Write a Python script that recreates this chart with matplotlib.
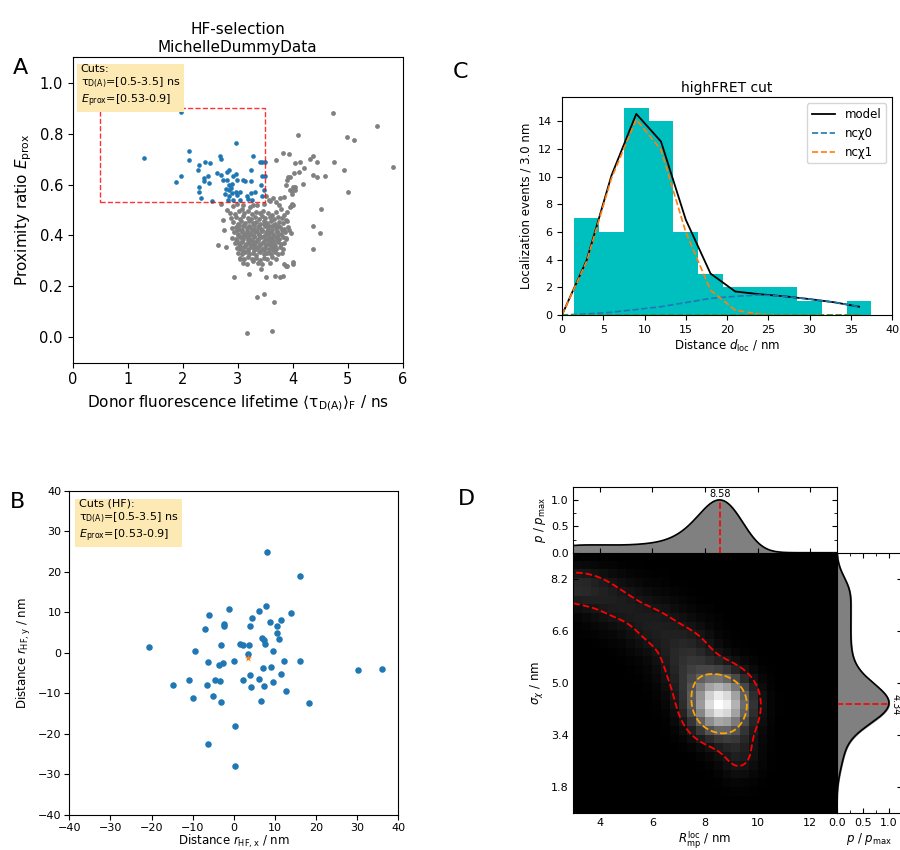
import numpy as np
import matplotlib
matplotlib.use("Agg")
import matplotlib.pyplot as plt
from matplotlib.patches import Rectangle
from matplotlib.ticker import MultipleLocator
from matplotlib.colors import PowerNorm

# ---------------- Panel A: lifetime vs proximity ratio ----------------
TAU_CUT = (0.5, 3.5)
E_CUT = (0.53, 0.9)

HF_TAU = [1.30, 1.96, 2.12, 2.12, 1.88, 1.96, 2.30, 2.40, 2.50, 2.28, 2.38, 2.39, 2.46,
          2.30, 2.30, 2.33, 2.48, 2.53, 2.68, 2.70, 2.62, 2.70, 2.80, 2.84, 2.74, 2.80,
          2.85, 2.90, 2.92, 2.97, 2.78, 2.84, 2.88, 2.76, 2.85, 2.90, 2.96, 2.82, 2.91,
          2.99, 3.04, 2.99, 3.10, 3.14, 3.04, 3.16, 3.24, 3.32, 3.19, 3.26, 3.28, 3.25,
          3.25, 3.41, 3.44, 3.49, 3.44, 3.49, 3.43, 3.44, 3.48, 2.96]
HF_E = [0.706, 0.887, 0.730, 0.696, 0.609, 0.635, 0.677, 0.688, 0.685, 0.659, 0.627, 0.612,
        0.633, 0.591, 0.570, 0.547, 0.608, 0.535, 0.714, 0.701, 0.646, 0.638, 0.651, 0.656,
        0.617, 0.617, 0.598, 0.604, 0.635, 0.640, 0.583, 0.577, 0.585, 0.564, 0.554, 0.567,
        0.572, 0.541, 0.538, 0.559, 0.541, 0.619, 0.619, 0.612, 0.572, 0.556, 0.567, 0.572,
        0.543, 0.538, 0.711, 0.656, 0.614, 0.690, 0.690, 0.690, 0.635, 0.635, 0.598, 0.556,
        0.580, 0.764]

OTHER_TAU = [
    # sparse points around the main population
    4.73, 5.53, 4.09, 4.99, 5.12, 5.82, 3.82, 3.93, 3.70, 4.05, 4.13, 4.32, 4.36, 4.44, 4.75,
    4.21, 4.11, 4.02, 3.92, 4.36, 4.45, 4.59, 4.94, 5.01, 4.18, 3.88, 4.01, 4.04, 3.98, 4.04,
    3.95, 3.90, 3.99, 3.95, 3.59, 3.70, 3.96, 4.00, 4.51, 3.51, 4.37, 4.49, 4.36, 4.00, 3.88,
    3.82, 3.68, 3.52, 2.93, 3.20, 3.35, 3.48, 3.66, 3.16, 3.62, 2.65, 2.79, 2.73, 2.75, 2.70,
    2.80, 3.43, 3.77, 3.85, 3.90, 4.00, 3.96, 3.94, 3.88,
    # dense low-FRET population
    2.92, 2.98, 3.07, 3.09, 3.22, 3.28, 3.35, 3.47, 3.56, 3.65, 3.77, 3.85, 3.75, 3.78, 3.95, 3.99,
    2.86, 2.95, 3.02, 3.12, 3.18, 3.26, 3.33, 3.41, 3.46, 3.55, 3.62, 3.69, 3.84, 3.90,
    2.88, 2.97, 3.05, 3.10, 3.19, 3.24, 3.31, 3.38, 3.44, 3.50, 3.58, 3.66, 3.73, 3.80, 3.87,
    2.92, 3.00, 3.06, 3.13, 3.20, 3.27, 3.33, 3.40, 3.47, 3.53, 3.60, 3.67, 3.75, 3.82, 3.89,
    2.89, 2.96, 3.03, 3.09, 3.16, 3.22, 3.29, 3.36, 3.42, 3.49, 3.55, 3.62, 3.69, 3.77, 3.84, 3.91,
    2.93, 3.00, 3.07, 3.13, 3.19, 3.25, 3.32, 3.38, 3.45, 3.51, 3.58, 3.64, 3.71, 3.78, 3.86,
    2.90, 2.97, 3.04, 3.10, 3.17, 3.23, 3.30, 3.36, 3.43, 3.49, 3.56, 3.62, 3.69, 3.75, 3.82, 3.88,
    2.95, 3.02, 3.08, 3.15, 3.21, 3.28, 3.34, 3.40, 3.47, 3.53, 3.60, 3.66, 3.73, 3.79, 3.85,
    2.98, 3.05, 3.11, 3.18, 3.24, 3.31, 3.37, 3.44, 3.50, 3.57, 3.63, 3.70, 3.76, 3.83,
    3.01, 3.08, 3.14, 3.21, 3.27, 3.34, 3.40, 3.47, 3.53, 3.60, 3.67, 3.74, 3.81,
    3.04, 3.12, 3.19, 3.26, 3.33, 3.40, 3.47, 3.54, 3.62, 3.70,
    3.10, 3.17, 3.28, 3.36, 3.44, 3.58, 3.04,
    3.03, 3.12, 3.21, 3.30, 3.39, 3.48, 3.57, 3.66, 3.74,
    2.98, 3.07, 3.16, 3.26, 3.35, 3.44, 3.53, 3.62, 3.72, 3.80,
    3.01, 3.10, 3.20, 3.29, 3.38, 3.47, 3.55, 3.65, 3.74,
    2.99, 3.08, 3.18, 3.27, 3.37, 3.46, 3.55, 3.64, 3.72,
    3.04, 3.13, 3.22, 3.31, 3.41, 3.50, 3.59, 3.68,
    3.09, 3.19, 3.29, 3.38, 3.47, 3.56, 3.65,
]
OTHER_E = [
    0.882, 0.832, 0.793, 0.787, 0.776, 0.668, 0.724, 0.722, 0.698, 0.685, 0.689, 0.701, 0.711, 0.687, 0.690,
    0.664, 0.648, 0.646, 0.630, 0.638, 0.628, 0.634, 0.659, 0.569, 0.604, 0.598, 0.590, 0.590, 0.564, 0.577,
    0.631, 0.618, 0.573, 0.579, 0.537, 0.531, 0.517, 0.521, 0.505, 0.554, 0.436, 0.409, 0.346, 0.287, 0.281,
    0.239, 0.241, 0.236, 0.236, 0.247, 0.160, 0.171, 0.139, 0.018, 0.024, 0.364, 0.354, 0.459, 0.423, 0.525,
    0.501, 0.268, 0.236, 0.289, 0.278, 0.294, 0.409, 0.420, 0.390,
    0.516, 0.524, 0.505, 0.521, 0.510, 0.521, 0.518, 0.524, 0.539, 0.547, 0.547, 0.550, 0.521, 0.502, 0.513, 0.524,
    0.490, 0.485, 0.495, 0.488, 0.496, 0.484, 0.492, 0.487, 0.497, 0.490, 0.482, 0.494, 0.481, 0.494,
    0.468, 0.474, 0.466, 0.476, 0.470, 0.464, 0.474, 0.466, 0.476, 0.468, 0.472, 0.464, 0.474, 0.468, 0.460,
    0.452, 0.446, 0.455, 0.448, 0.456, 0.447, 0.454, 0.445, 0.456, 0.449, 0.455, 0.446, 0.452, 0.447, 0.455,
    0.430, 0.434, 0.426, 0.436, 0.428, 0.435, 0.427, 0.434, 0.426, 0.436, 0.429, 0.437, 0.428, 0.433, 0.426, 0.434,
    0.412, 0.406, 0.415, 0.407, 0.414, 0.405, 0.413, 0.407, 0.416, 0.408, 0.414, 0.406, 0.413, 0.405, 0.415,
    0.390, 0.386, 0.394, 0.386, 0.393, 0.385, 0.392, 0.385, 0.394, 0.386, 0.392, 0.385, 0.393, 0.387, 0.394, 0.386,
    0.372, 0.366, 0.374, 0.367, 0.373, 0.365, 0.374, 0.366, 0.372, 0.365, 0.373, 0.366, 0.374, 0.367, 0.372,
    0.352, 0.346, 0.354, 0.347, 0.353, 0.345, 0.354, 0.346, 0.352, 0.345, 0.353, 0.347, 0.354, 0.346,
    0.332, 0.326, 0.334, 0.327, 0.333, 0.325, 0.334, 0.327, 0.332, 0.326, 0.334, 0.327, 0.333,
    0.312, 0.306, 0.314, 0.307, 0.313, 0.305, 0.313, 0.306, 0.314, 0.307,
    0.291, 0.287, 0.298, 0.290, 0.286, 0.293, 0.307,
    0.440, 0.443, 0.438, 0.442, 0.439, 0.444, 0.437, 0.441, 0.439,
    0.420, 0.423, 0.418, 0.421, 0.417, 0.422, 0.419, 0.423, 0.418, 0.421,
    0.400, 0.397, 0.402, 0.398, 0.401, 0.396, 0.403, 0.399, 0.401,
    0.380, 0.377, 0.382, 0.378, 0.381, 0.376, 0.383, 0.379, 0.381,
    0.360, 0.357, 0.362, 0.358, 0.361, 0.356, 0.362, 0.359,
    0.340, 0.337, 0.342, 0.338, 0.341, 0.336, 0.342,
]

# ---------------- Panel B: localisation offsets of the HF bursts ----------------
RX = [-20.6, -14.9, -10.9, -10.0, -9.4, -6.9, -6.1, -6.3, -6.4, -6.3, -5.0, -4.5, -3.4, -3.5,
      -2.6, -3.1, -3.0, -2.5, -2.5, -1.1, 0.0, 0.4, 0.3, 1.4, 2.2, 2.3, 3.6, 3.5, 3.9, 4.5,
      3.9, 4.1, 6.1, 6.2, 6.7, 6.8, 7.4, 7.7, 7.0, 7.3, 7.9, 8.1, 8.9, 9.0, 9.5, 9.6, 10.6,
      10.4, 11.4, 11.0, 11.4, 12.2, 12.7, 14.0, 16.1, 16.1, 18.2, 30.3, 36.1]
RY = [1.4, -8.0, -6.6, -11.2, 0.5, 5.9, 9.4, -2.2, -8.0, -22.5, -10.6, -6.7, -6.9, -3.1,
      -2.4, 1.9, -12.2, 7.2, 6.6, 10.8, -2.1, -18.0, -27.9, 2.3, 2.0, -6.7, 1.9, -0.3, 6.7, 8.5,
      -5.5, -8.4, 10.4, -6.5, -12.0, 3.6, 3.2, 2.3, -3.8, -8.3, 11.6, 24.9, 7.6, -3.6, -7.1, 0.4, 6.7,
      5.0, 8.0, 3.3, -5.2, -1.9, -9.3, 9.8, 18.9, -1.9, -12.3, -4.3, -4.0]
CENTER_X, CENTER_Y = 3.5, -1.2

# ---------------- Panel C: distance histogram and model ----------------
BIN_WIDTH = 3.0
BIN_LEFT = [1.5, 4.5, 7.5, 10.5, 13.5, 16.5, 19.5, 22.5, 25.5, 28.5, 31.5, 34.5]
BIN_COUNT = [7, 6, 15, 14, 6, 3, 2, 2, 2, 1, 0, 1]
D_MODEL = [0, 3, 6, 9, 12, 15, 18, 21, 24, 27, 30, 33, 36]
NCCHI0 = [0.0, 0.08, 0.2, 0.4, 0.6, 0.9, 1.2, 1.35, 1.45, 1.35, 1.15, 0.92, 0.6]
NCCHI1 = [0.0, 3.9, 9.9, 14.15, 11.95, 6.0, 1.8, 0.35, 0.05, 0.0, 0.0, 0.0, 0.0]
NCCHI2 = [0.0] * 13

# ---------------- Panel D: posterior of (R_mp, sigma_chi) ----------------
R_RANGE = (3.0, 13.0)
S_RANGE = (1.0, 9.0)
R_PEAK = 8.58
S_PEAK = 4.34
# Gaussian components describing the posterior density
COMP_R = [R_PEAK, 9.3, 7.4, 6.1, 4.6, 3.0]
COMP_S = [S_PEAK, 2.8, 5.6, 6.7, 7.4, 7.95]
COMP_SD_R = [0.75, 0.55, 0.75, 0.85, 0.9, 0.95]
COMP_SD_S = [0.63, 0.55, 0.75, 0.65, 0.55, 0.42]
COMP_W = [1.0, 0.14, 0.22, 0.13, 0.12, 0.2]
CONTOUR_FRAC = [0.12, 0.4]
N_PIX = 30


def posterior(r, s):
    out = np.zeros(np.broadcast(r, s).shape)
    for mr, ms, sr, ss, w in zip(COMP_R, COMP_S, COMP_SD_R, COMP_SD_S, COMP_W):
        out += w * np.exp(-0.5 * ((r - mr) / sr) ** 2 - 0.5 * ((s - ms) / ss) ** 2)
    return out


W, H = 900, 850
fig = plt.figure(figsize=(W / 100, H / 100), dpi=100)


def box(l, t, r, b):
    return [l / W, 1 - b / H, (r - l) / W, (b - t) / H]


CUT_BG = "#fde9b4"
BLUE = "#1f77b4"

# ---- A ----
axA = fig.add_axes(box(72.7, 57.3, 402.7, 362.7))
axA.scatter(OTHER_TAU, OTHER_E, s=12, color="grey", linewidths=0)
axA.scatter(HF_TAU, HF_E, s=11, color=BLUE, linewidths=0)
axA.add_patch(Rectangle((TAU_CUT[0], E_CUT[0]), TAU_CUT[1] - TAU_CUT[0], E_CUT[1] - E_CUT[0],
                        fill=False, ec="red", ls="--", lw=1.0, alpha=0.8))
axA.set_xlim(0, 6)
axA.set_ylim(-0.1, 1.1)
axA.set_xticks(range(0, 7))
axA.set_yticks([0.0, 0.2, 0.4, 0.6, 0.8, 1.0])
axA.tick_params(labelsize=10.5)
axA.set_xlabel(r"Donor fluorescence lifetime $\langle\mathrm{\tau_{D(A)}}\rangle_\mathrm{F}$ / ns", fontsize=11)
axA.set_ylabel(r"Proximity ratio $E_\mathrm{prox}$", fontsize=11)
axA.set_title("HF-selection\nMichelleDummyData", fontsize=11, pad=4)
cut_txt = (r"$\mathrm{\tau_{D(A)}}$=[%.1f-%.1f] ns" % TAU_CUT + "\n"
           + r"$E_\mathrm{prox}$=[%.2f-%.1f]" % E_CUT)
axA.text(0.024, 0.978, "Cuts:\n" + cut_txt, transform=axA.transAxes, va="top", ha="left",
         fontsize=8, bbox=dict(boxstyle="square,pad=0.3", fc=CUT_BG, ec="none"))

# ---- B ----
axB = fig.add_axes(box(69.3, 490.7, 398.3, 815))
axB.scatter(RX, RY, s=22, color=BLUE, linewidths=0)
axB.scatter([CENTER_X], [CENTER_Y], marker="*", s=30, color="#ff7f0e", linewidths=0, zorder=3)
axB.set_xlim(-40, 40)
axB.set_ylim(-40, 40)
axB.set_xticks(range(-40, 41, 10))
axB.set_yticks(range(-40, 41, 10))
axB.tick_params(labelsize=8, pad=2)
axB.set_xlabel(r"Distance $r_\mathrm{HF,x}$ / nm", fontsize=8.5, labelpad=0)
axB.set_ylabel(r"Distance $r_\mathrm{HF,y}$ / nm", fontsize=8.5)
axB.text(0.028, 0.975, "Cuts (HF):\n" + cut_txt, transform=axB.transAxes, va="top", ha="left",
         fontsize=8, bbox=dict(boxstyle="square,pad=0.3", fc=CUT_BG, ec="none"))

# ---- C ----
axC = fig.add_axes(box(562, 97.3, 892, 315))
axC.bar(BIN_LEFT, BIN_COUNT, width=BIN_WIDTH, align="edge", color="c", linewidth=0)
model = np.add(NCCHI0, NCCHI1) + np.array(NCCHI2)
axC.plot(D_MODEL, model, color="k", lw=1.3, label="model")
axC.plot(D_MODEL, NCCHI0, color="#1f77b4", ls="--", lw=1.2, label="ncχ0")
axC.plot(D_MODEL, NCCHI1, color="#ff7f0e", ls="--", lw=1.2, label="ncχ1")
axC.plot(D_MODEL, NCCHI2, color="#2ca02c", ls="--", lw=1.2)
axC.set_xlim(0, 40)
axC.set_ylim(0, max(BIN_COUNT) * 1.05)
axC.set_yticks(range(0, 15, 2))
axC.tick_params(labelsize=8)
axC.set_xlabel(r"Distance $d_\mathrm{loc}$ / nm", fontsize=8.5, labelpad=2)
axC.set_ylabel("Localization events / %.1f nm" % BIN_WIDTH, fontsize=8.5)
axC.set_title("highFRET cut", fontsize=10, pad=4)
axC.legend(loc="upper right", fontsize=8.5)

# ---- D ----
axD = fig.add_axes(box(573.3, 552.7, 836.7, 813.3))
axDt = fig.add_axes(box(573.3, 486.7, 836.7, 552.7))
axDr = fig.add_axes(box(836.7, 552.7, 902, 813.3))

r_edges = np.linspace(*R_RANGE, N_PIX + 1)
s_edges = np.linspace(*S_RANGE, N_PIX + 1)
rc = 0.5 * (r_edges[1:] + r_edges[:-1])
sc = 0.5 * (s_edges[1:] + s_edges[:-1])
img = posterior(rc[None, :], sc[:, None])
axD.imshow(img, extent=[*R_RANGE, *S_RANGE], origin="lower", aspect="auto", cmap="gray",
           interpolation="nearest", norm=PowerNorm(gamma=1.15, vmin=0, vmax=img.max()))

rf = np.linspace(*R_RANGE, 300)
sf = np.linspace(*S_RANGE, 300)
dens = posterior(rf[None, :], sf[:, None])
axD.contour(rf, sf, dens, levels=[CONTOUR_FRAC[0] * dens.max()], colors="red",
            linestyles="--", linewidths=1.3)
axD.contour(rf, sf, dens, levels=[CONTOUR_FRAC[1] * dens.max()], colors="orange",
            linestyles="--", linewidths=1.3)
axD.set_xlim(*R_RANGE)
axD.set_ylim(*S_RANGE)
axD.set_xticks([4, 6, 8, 10, 12])
axD.set_yticks([1.8, 3.4, 5.0, 6.6, 8.2])
axD.tick_params(direction="in", labelsize=8, top=True, right=True)
axD.set_xlabel(r"$R_\mathrm{mp}^\mathrm{loc}$ / nm", fontsize=8.5, labelpad=1)
axD.set_ylabel(r"$\sigma_\chi$ / nm", fontsize=8.5)

mr = dens.sum(axis=0)
mr = mr / mr.max()
axDt.fill_between(rf, 0, mr, color="grey")
axDt.plot(rf, mr, color="k", lw=1.2)
axDt.plot([R_PEAK, R_PEAK], [0, np.interp(R_PEAK, rf, mr)], color="red", ls="--", lw=1.2)
axDt.text(R_PEAK, np.interp(R_PEAK, rf, mr) + 0.02, "%.2f" % R_PEAK, ha="center", va="bottom", fontsize=7)
axDt.set_xlim(*R_RANGE)
axDt.set_ylim(0, 1.25)
axDt.set_xticks([4, 6, 8, 10, 12])
axDt.set_yticks([0.0, 0.5, 1.0])
axDt.yaxis.set_minor_locator(MultipleLocator(0.25))
axDt.tick_params(which="both", direction="in", labelbottom=False, top=True, right=True, labelsize=8)
axDt.set_ylabel(r"$p$ / $p_\mathrm{max}$", fontsize=8.5, labelpad=2)

ms = dens.sum(axis=1)
ms = ms / ms.max()
axDr.fill_betweenx(sf, 0, ms, color="grey")
axDr.plot(ms, sf, color="k", lw=1.2)
axDr.plot([0, np.interp(S_PEAK, sf, ms)], [S_PEAK, S_PEAK], color="red", ls="--", lw=1.2)
axDr.text(np.interp(S_PEAK, sf, ms) + 0.03, S_PEAK, "%.2f" % S_PEAK, ha="left", va="center",
          rotation=-90, fontsize=7)
axDr.set_ylim(*S_RANGE)
axDr.set_xlim(0, 1.25)
axDr.set_xticks([0.0, 0.5, 1.0])
axDr.xaxis.set_minor_locator(MultipleLocator(0.25))
axDr.set_yticks([1.8, 3.4, 5.0, 6.6, 8.2])
axDr.tick_params(which="both", direction="in", labelleft=False, left=False, right=True,
                 labelright=False, top=True, labelsize=8)
axDr.set_xlabel(r"$p$ / $p_\mathrm{max}$", fontsize=8.5, labelpad=2)

# ---- panel letters ----
for letter, x, y in [("A", 12.7, 74), ("C", 452.7, 78.3), ("B", 10, 508.3), ("D", 458.3, 505)]:
    fig.text(x / W, 1 - y / H, letter, fontsize=16, ha="left", va="baseline")

fig.savefig("out.png", dpi=100)
